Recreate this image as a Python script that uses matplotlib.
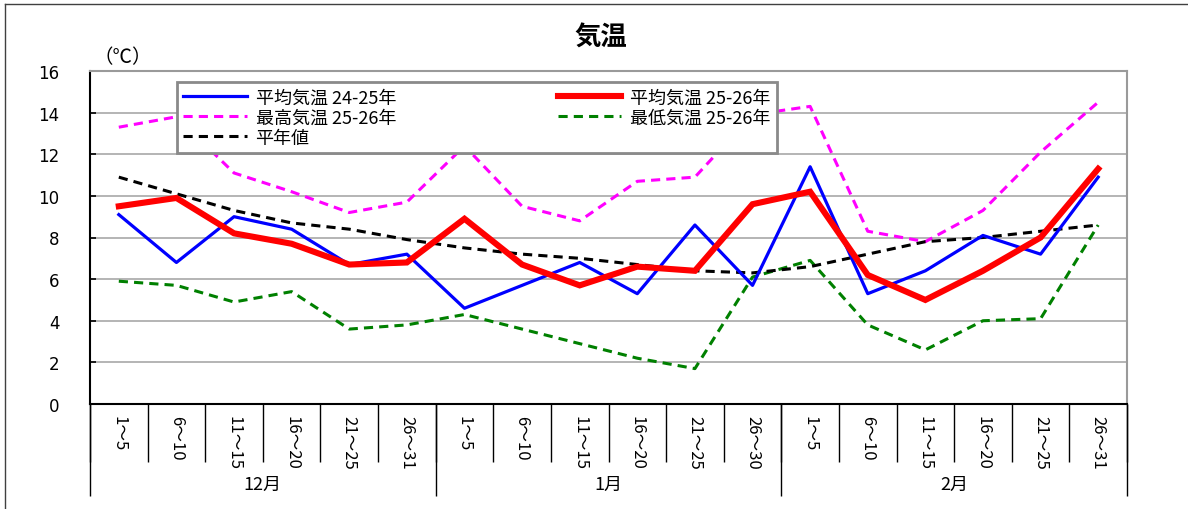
import matplotlib.pyplot as plt
import numpy as np
from matplotlib.lines import Line2D

plt.rcParams['font.family'] = ['Noto Sans CJK JP', 'DejaVu Sans']

# 半旬ごとの区間 (12月〜2月)
periods = ['1～5', '6～10', '11～15', '16～20', '21～25', '26～31',
           '1～5', '6～10', '11～15', '16～20', '21～25', '26～30',
           '1～5', '6～10', '11～15', '16～20', '21～25', '26～31']
months = ['12月', '1月', '2月']
month_sizes = [6, 6, 6]

avg_prev = [9.1, 6.8, 9.0, 8.4, 6.7, 7.2, 4.6, 5.7, 6.8, 5.3, 8.6, 5.7,
            11.4, 5.3, 6.4, 8.1, 7.2, 10.9]
avg_curr = [9.5, 9.9, 8.2, 7.7, 6.7, 6.8, 8.9, 6.7, 5.7, 6.6, 6.4, 9.6,
            10.2, 6.2, 5.0, 6.4, 8.0, 11.3]
max_curr = [13.3, 13.8, 11.1, 10.2, 9.2, 9.7, 12.4, 9.5, 8.8, 10.7, 10.9, 13.9,
            14.3, 8.3, 7.8, 9.3, 12.1, 14.5]
min_curr = [5.9, 5.7, 4.9, 5.4, 3.6, 3.8, 4.3, 3.6, 2.9, 2.2, 1.7, 6.1,
            6.9, 3.8, 2.6, 4.0, 4.1, 8.6]
normal = [10.9, 10.1, 9.3, 8.7, 8.4, 7.9, 7.5, 7.2, 7.0, 6.7, 6.4, 6.3,
          6.6, 7.2, 7.8, 8.0, 8.3, 8.6]

yticks = [0, 2, 4, 6, 8, 10, 12, 14, 16]

W, H = 1188, 510
fig = plt.figure(figsize=(W / 100, H / 100), dpi=100)
ax = fig.add_axes([90 / W, 105 / H, 1037 / W, 333 / H])

x = np.arange(len(periods))
dash = (0, (3, 2))
l_prev, = ax.plot(x, avg_prev, color='#0000ff', lw=2.3, zorder=4,
                  label='平均気温 24-25年')
l_curr, = ax.plot(x, avg_curr, color='#ff0000', lw=4.4, zorder=5,
                  solid_joinstyle='miter', label='平均気温 25-26年')
l_max, = ax.plot(x, max_curr, color='#ff00ff', lw=2.2, ls=dash, zorder=3,
                 label='最高気温 25-26年')
l_min, = ax.plot(x, min_curr, color='#008000', lw=2.2, ls=dash, zorder=3,
                 label='最低気温 25-26年')
l_norm, = ax.plot(x, normal, color='black', lw=2.2, ls=dash, zorder=3,
                  label='平年値')

ax.set_xlim(-0.5, len(periods) - 0.5)
ax.set_ylim(0, 16)
ax.set_yticks(yticks)
ax.set_yticklabels([str(v) for v in yticks], family=['DejaVu Sans'],
                   fontsize=12)
ax.yaxis.grid(True, color='#a8a8a8', lw=1.2)
ax.set_axisbelow(True)
ax.tick_params(axis='y', direction='in', length=4, width=1.2, pad=22,
               colors='black')

ax.set_xticks(x)
ax.set_xticklabels(periods, rotation=270, fontsize=12)
ax.tick_params(axis='x', length=0, pad=8)

for side in ('top', 'right'):
    ax.spines[side].set_color('#9a9a9a')
    ax.spines[side].set_linewidth(1.5)
for side in ('left', 'bottom'):
    ax.spines[side].set_color('black')
    ax.spines[side].set_linewidth(1.5)

# 区間の区切り線と月の区切り線
trans = ax.get_xaxis_transform()
bounds = np.arange(len(periods) + 1) - 0.5
ax.vlines(bounds, -58 / 333, 0, transform=trans, colors='black', lw=1,
          clip_on=False)
edges = np.concatenate([[0], np.cumsum(month_sizes)]) - 0.5
ax.vlines(edges, -92 / 333, 0, transform=trans, colors='black', lw=1,
          clip_on=False)
for m, a, b in zip(months, edges[:-1], edges[1:]):
    ax.text((a + b) / 2, -80 / 333, m, transform=trans, ha='center',
            va='center', fontsize=13)

leg = ax.legend(handles=[l_prev, l_max, l_norm, l_curr, l_min], ncol=2,
                loc='upper left', mode='expand',
                bbox_to_anchor=(87 / 1037, 322 / 333, 600 / 1037, 0),
                borderaxespad=0, fontsize=13, handlelength=3.5,
                handletextpad=0.5, labelspacing=0.12, borderpad=0.35,
                fancybox=False, framealpha=1)
leg.get_frame().set_edgecolor('#8a8a8a')
leg.get_frame().set_linewidth(2)

fig.text(601 / W, 1 - 38 / H, '気温', ha='center', va='center',
         fontsize=19, fontweight='bold')
fig.text(123 / W, 1 - 58 / H, '（℃）', ha='center', va='center',
         fontsize=14)

# 外枠
fig.add_artist(Line2D([5 / W, 5 / W], [0, 1 - 5 / H], color='#404040',
                      lw=1, transform=fig.transFigure))
fig.add_artist(Line2D([5 / W, 1], [1 - 5 / H, 1 - 5 / H], color='#404040',
                      lw=1, transform=fig.transFigure))

fig.savefig('out.png', dpi=100)
